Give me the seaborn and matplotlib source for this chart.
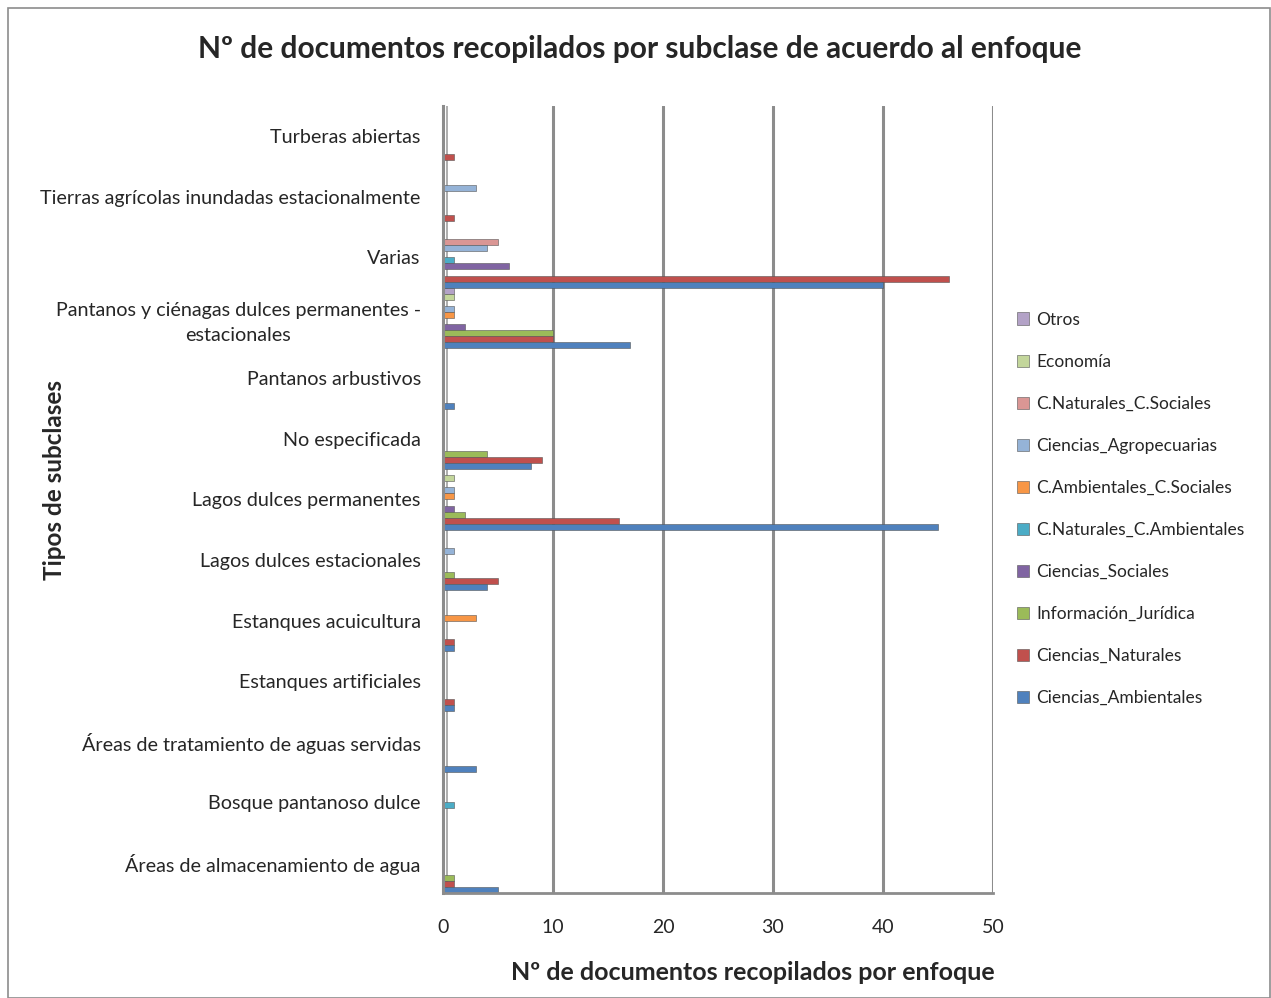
import matplotlib
matplotlib.use("Agg")
import matplotlib.pyplot as plt
import seaborn as sns
import pandas as pd
import numpy as np
from matplotlib.patches import Rectangle

categories = [
    "Turberas abiertas",
    "Tierras agrícolas inundadas estacionalmente",
    "Varias",
    "Pantanos y ciénagas dulces permanentes -\nestacionales",
    "Pantanos arbustivos",
    "No especificada",
    "Lagos dulces permanentes",
    "Lagos dulces estacionales",
    "Estanques acuicultura",
    "Estanques artificiales",
    "Áreas de tratamiento de aguas servidas",
    "Bosque pantanoso dulce",
    "Áreas de almacenamiento de agua",
]

# series (values follow category order above)
ciencias_ambientales = [0, 0, 40, 17, 1, 8, 45, 4, 1, 1, 3, 0, 5]
ciencias_naturales   = [1, 1, 46, 10, 0, 9, 16, 5, 1, 1, 0, 0, 1]
informacion_juridica = [0, 0, 0, 10, 0, 4, 2, 1, 0, 0, 0, 0, 1]
ciencias_sociales    = [0, 0, 6, 2, 0, 0, 1, 0, 0, 0, 0, 0, 0]
cnat_camb            = [0, 0, 1, 0, 0, 0, 0, 0, 0, 0, 0, 1, 0]
camb_csoc            = [0, 0, 0, 1, 0, 0, 1, 0, 3, 0, 0, 0, 0]
ciencias_agropec     = [0, 3, 4, 1, 0, 0, 1, 1, 0, 0, 0, 0, 0]
cnat_csoc            = [0, 0, 5, 0, 0, 0, 0, 0, 0, 0, 0, 0, 0]
economia             = [0, 0, 0, 1, 0, 0, 1, 0, 0, 0, 0, 0, 0]
otros                = [0, 0, 0, 1, 0, 0, 0, 0, 0, 0, 0, 0, 0]

series_names = ["Otros", "Economía", "C.Naturales_C.Sociales", "Ciencias_Agropecuarias",
                "C.Ambientales_C.Sociales", "C.Naturales_C.Ambientales", "Ciencias_Sociales",
                "Información_Jurídica", "Ciencias_Naturales", "Ciencias_Ambientales"]
series_values = [otros, economia, cnat_csoc, ciencias_agropec, camb_csoc, cnat_camb,
                 ciencias_sociales, informacion_juridica, ciencias_naturales, ciencias_ambientales]
colors = ["#B3A2C7", "#C3D69B", "#DA9694", "#95B3D7", "#F79646", "#4BACC6",
          "#8064A2", "#9BBB59", "#C0504D", "#4F81BD"]

rows = []
for name, vals in zip(series_names, series_values):
    for cat, v in zip(categories, vals):
        rows.append({"Subclase": cat, "Enfoque": name, "Valor": v})
df = pd.DataFrame(rows)

sns.set_style("white")
plt.rcParams['font.family'] = ['Lato', 'DejaVu Sans']

fig = plt.figure(figsize=(12.71, 9.98), dpi=100)
ax = fig.add_axes([443/1271, 1-893/998, (993-443)/1271, (893-106)/998])

sns.barplot(data=df, y="Subclase", x="Valor", hue="Enfoque", order=categories,
            hue_order=series_names, palette=colors, orient="h", width=1.0,
            errorbar=None, ax=ax, edgecolor="#555555", linewidth=0.4, saturation=1)

ax.set_xlim(0, 50)
ax.set_ylim(len(categories) - 0.5, -0.5)
ax.set_xticks([0, 10, 20, 30, 40, 50])
ax.set_xticklabels(["0", "10", "20", "30", "40", "50"], fontsize=14)
ax.tick_params(axis='x', length=0, pad=19)
ax.tick_params(axis='y', which='major', length=0, pad=16, labelsize=14.2)
for lab in ax.get_yticklabels():
    lab.set_multialignment("center")
    lab.set_linespacing(1.55)
ax.set_yticks(np.arange(-0.5, len(categories)), minor=True)
ax.tick_params(axis='y', which='minor', length=6, width=1.5, color="#8c8c8c")
ax.grid(False)
for x in [10, 20, 30, 40, 50]:
    ax.axvline(x, color="#8c8c8c", lw=2.2, zorder=0)
ax.axvline(0.38, color="#a0a0a0", lw=1.2, zorder=0)
for s in ["top", "right"]:
    ax.spines[s].set_visible(False)
ax.spines["left"].set_color("#8c8c8c")
ax.spines["left"].set_linewidth(2.2)
ax.spines["bottom"].set_color("#8c8c8c")
ax.spines["bottom"].set_linewidth(2.0)

ax.set_xlabel("")
ax.set_ylabel("")
fig.text(753/1271, 1-972/998, "Nº de documentos recopilados por enfoque", fontsize=18,
         fontweight="bold", ha="center", va="center")
fig.text(55/1271, 1-480/998, "Tipos de subclases", rotation=90, fontsize=17.5,
         fontweight="bold", ha="center", va="center")
fig.text(640/1271, 1-49/998, "Nº de documentos recopilados por subclase de acuerdo al enfoque",
         fontsize=21.5, fontweight="bold", ha="center", va="center")

handles, labels = ax.get_legend_handles_labels()
leg = ax.legend(handles, labels, loc="upper left", bbox_to_anchor=(1001/1271, 1-296/998),
                bbox_transform=fig.transFigure, frameon=False, fontsize=12.5,
                handlelength=0.7, handleheight=0.7, labelspacing=1.5, handletextpad=0.45)

fig.patches.append(Rectangle((8/1271, 0), (1270-8)/1271, 1-8/998, transform=fig.transFigure,
                             fill=False, edgecolor="#8c8c8c", lw=1.2))

fig.savefig("out.png", dpi=100)
